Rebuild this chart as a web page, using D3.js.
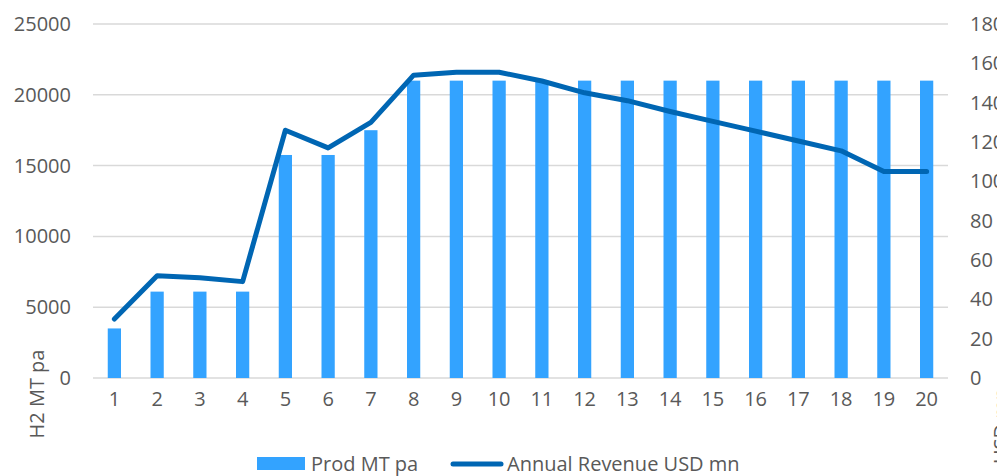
<!DOCTYPE html>
<html>
<head>
<meta charset="utf-8">
<script src="https://cdn.jsdelivr.net/npm/d3@7"></script>
<style>
  html, body { margin: 0; padding: 0; background: #fff; }
  svg { display: block; font-family: 'Open Sans', sans-serif; }
</style>
</head>
<body>
<div id="chart"></div>
<script>
'use strict';

const years = d3.range(1, 21).map(String);
const prodMT = [3500, 6100, 6100, 6100, 15750, 15750, 17500, 21000, 21000, 21000,
    21000, 21000, 21000, 21000, 21000, 21000, 21000, 21000, 21000, 21000];
const revenueUSD = [30, 52, 51, 49, 126, 117, 130, 154, 155.5, 155.5,
    151, 145, 141, 135.5, 130.5, 125.5, 120.5, 115.5, 105, 105];
const leftTicks = [0, 5000, 10000, 15000, 20000, 25000];
const rightTicks = [0, 20, 40, 60, 80, 100, 120, 140, 160, 180];

const width = 997;
const height = 476;
const margin = { top: 24, right: 49, bottom: 98, left: 93 };
const chartWidth = width - margin.left - margin.right;
const chartHeight = height - margin.top - margin.bottom;
const textColour = '#595959';

const svg = d3.select('#chart')
    .append('svg')
    .attr('width', width)
    .attr('height', height);

const chart = svg.append('g')
    .attr('transform', `translate(${margin.left},${margin.top})`);

const xScale = d3.scaleBand()
    .domain(years)
    .range([0, chartWidth])
    .paddingInner(0.69)
    .paddingOuter(0.345);

const yLeft = d3.scaleLinear()
    .domain([0, 25000])
    .range([chartHeight, 0]);

const yRight = d3.scaleLinear()
    .domain([0, 180])
    .range([chartHeight, 0]);

// gridlines
chart.selectAll('line.grid')
    .data(leftTicks)
    .join('line')
    .attr('class', 'grid')
    .attr('x1', 0)
    .attr('x2', chartWidth)
    .attr('y1', d => yLeft(d))
    .attr('y2', d => yLeft(d))
    .attr('stroke', '#d9d9d9')
    .attr('stroke-width', 1.5);

// left axis
const leftAxis = chart.append('g')
    .call(d3.axisLeft(yLeft).tickValues(leftTicks).tickSize(0).tickPadding(22).tickFormat(d3.format('d')));
leftAxis.select('.domain').remove();
leftAxis.selectAll('text')
    .attr('fill', textColour)
    .attr('font-size', 20)
    .attr('font-family', 'Open Sans');

// right axis
const rightAxis = chart.append('g')
    .attr('transform', `translate(${chartWidth},0)`)
    .call(d3.axisRight(yRight).tickValues(rightTicks).tickSize(0).tickPadding(22));
rightAxis.select('.domain').remove();
rightAxis.selectAll('text')
    .attr('fill', textColour)
    .attr('font-size', 20)
    .attr('font-family', 'Open Sans');

// x axis
const xAxis = chart.append('g')
    .attr('transform', `translate(0,${chartHeight})`)
    .call(d3.axisBottom(xScale).tickSize(0).tickPadding(14));
xAxis.select('.domain').remove();
xAxis.selectAll('text')
    .attr('fill', textColour)
    .attr('font-size', 20)
    .attr('font-family', 'Open Sans');

// bars
chart.selectAll('rect.bar')
    .data(prodMT)
    .join('rect')
    .attr('class', 'bar')
    .attr('x', (d, i) => xScale(years[i]))
    .attr('y', d => yLeft(d))
    .attr('width', xScale.bandwidth())
    .attr('height', d => chartHeight - yLeft(d))
    .attr('fill', '#33a3ff');

// revenue line
const line = d3.line()
    .x((d, i) => xScale(years[i]) + xScale.bandwidth() / 2)
    .y(d => yRight(d));

chart.append('path')
    .datum(revenueUSD)
    .attr('d', line)
    .attr('fill', 'none')
    .attr('stroke', '#0066b3')
    .attr('stroke-width', 5)
    .attr('stroke-linecap', 'round')
    .attr('stroke-linejoin', 'round');

// axis titles
svg.append('text')
    .attr('transform', 'rotate(-90)')
    .attr('x', -394)
    .attr('y', 44)
    .attr('text-anchor', 'middle')
    .attr('font-size', 20)
    .attr('fill', textColour)
    .text('H2 MT pa');

svg.append('text')
    .attr('transform', 'rotate(-90)')
    .attr('x', -426)
    .attr('y', 1008)
    .attr('text-anchor', 'middle')
    .attr('font-size', 20)
    .attr('fill', textColour)
    .text('USD mn');

// legend
const legend = svg.append('g');
legend.append('rect')
    .attr('x', 257)
    .attr('y', 457)
    .attr('width', 48)
    .attr('height', 13)
    .attr('fill', '#33a3ff');
legend.append('text')
    .attr('x', 311)
    .attr('y', 471)
    .attr('font-size', 20)
    .attr('fill', textColour)
    .text('Prod MT pa');
legend.append('line')
    .attr('x1', 453)
    .attr('x2', 501)
    .attr('y1', 464)
    .attr('y2', 464)
    .attr('stroke', '#0066b3')
    .attr('stroke-width', 5)
    .attr('stroke-linecap', 'round');
legend.append('text')
    .attr('x', 507)
    .attr('y', 471)
    .attr('font-size', 20)
    .attr('fill', textColour)
    .text('Annual Revenue USD mn');
</script>
</body>
</html>
